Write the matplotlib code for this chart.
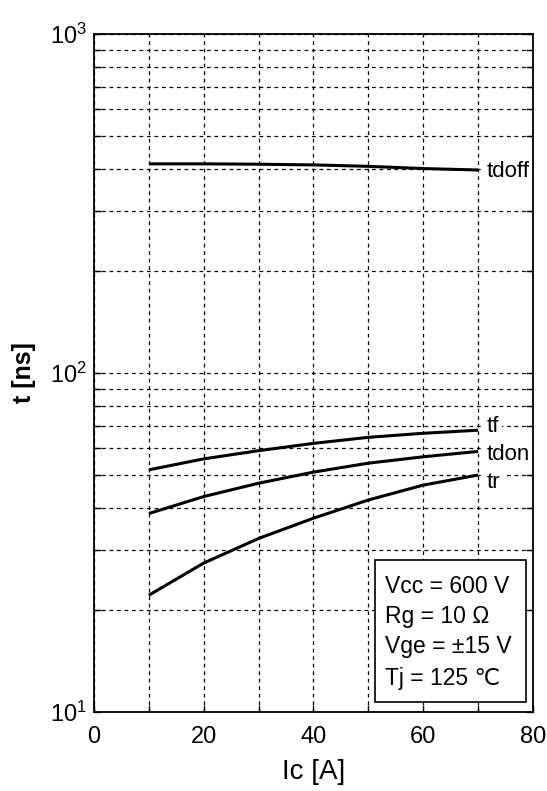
import matplotlib
matplotlib.use("Agg")
import matplotlib.pyplot as plt
from matplotlib.ticker import LogLocator, MultipleLocator, LogFormatterMathtext, NullFormatter
from matplotlib.patches import Rectangle

plt.rcParams['font.family'] = ['Liberation Sans', 'DejaVu Sans']
plt.rcParams['mathtext.fontset'] = 'custom'
plt.rcParams['mathtext.rm'] = 'Liberation Sans'
plt.rcParams['mathtext.it'] = 'Liberation Sans'
plt.rcParams['mathtext.bf'] = 'Liberation Sans:bold'

# Data
ic = [10, 20, 30, 40, 50, 60, 70]
tdoff = [414, 414, 413, 411, 407, 401, 397]
tf = [51.8, 55.8, 59.0, 62.0, 64.6, 66.4, 67.8]
tdon = [38.5, 43.2, 47.3, 51.0, 54.2, 56.6, 58.7]
tr = [22.1, 27.5, 32.5, 37.3, 42.2, 46.7, 50.0]
series = [("tdoff", tdoff, 393), ("tf", tf, 69.3), ("tdon", tdon, 57.3), ("tr", tr, 47.4)]
conditions = ["Vcc = 600 V", "Rg = 10 Ω", "Vge = ±15 V", "Tj = 125 ℃"]

fig = plt.figure(figsize=(5.47, 7.91), dpi=100)
ax = fig.add_axes([0.1718, 0.0999, 0.8026, 0.8571])

for name, vals, ly in series:
    ax.plot(ic, vals, color='black', lw=2.2, solid_capstyle='butt', zorder=3)
    ax.text(71.5, ly, name, fontsize=16, va='center', ha='left', color='black', zorder=4,
            bbox=dict(facecolor='white', edgecolor='none', pad=2.5))

ax.set_yscale('log')
ax.set_xlim(0, 80)
ax.set_ylim(10, 1000)
ax.xaxis.set_major_locator(MultipleLocator(20))
ax.xaxis.set_minor_locator(MultipleLocator(10))
ax.yaxis.set_major_locator(LogLocator(base=10))
ax.yaxis.set_minor_locator(LogLocator(base=10, subs=range(2, 10)))
ax.yaxis.set_major_formatter(LogFormatterMathtext())
ax.yaxis.set_minor_formatter(NullFormatter())

ax.grid(True, which='both', axis='both', color='black', linestyle=(0, (3, 3)), linewidth=0.9)
ax.tick_params(which='both', direction='in', top=False, right=True, length=5, width=1, labelsize=17)
ax.tick_params(axis='x', pad=10)
ax.tick_params(axis='y', pad=5)
for s in ax.spines.values():
    s.set_linewidth(1.3)
    s.set_zorder(5)

ax.set_xlabel("Ic [A]", fontsize=20, labelpad=8)
ax.set_ylabel("t [ns]", fontsize=18, fontweight='bold', labelpad=10)

box = Rectangle((0.640, 0.0147), 0.344, 0.209, transform=ax.transAxes,
                facecolor='white', edgecolor='black', lw=1.2, zorder=6)
ax.add_patch(box)
ys = [0.185, 0.141, 0.097, 0.050]
for txt, yy in zip(conditions, ys):
    ax.text(0.663, yy, txt, transform=ax.transAxes, fontsize=16.5, va='center', ha='left', zorder=7)

fig.savefig("out.png", dpi=100)
